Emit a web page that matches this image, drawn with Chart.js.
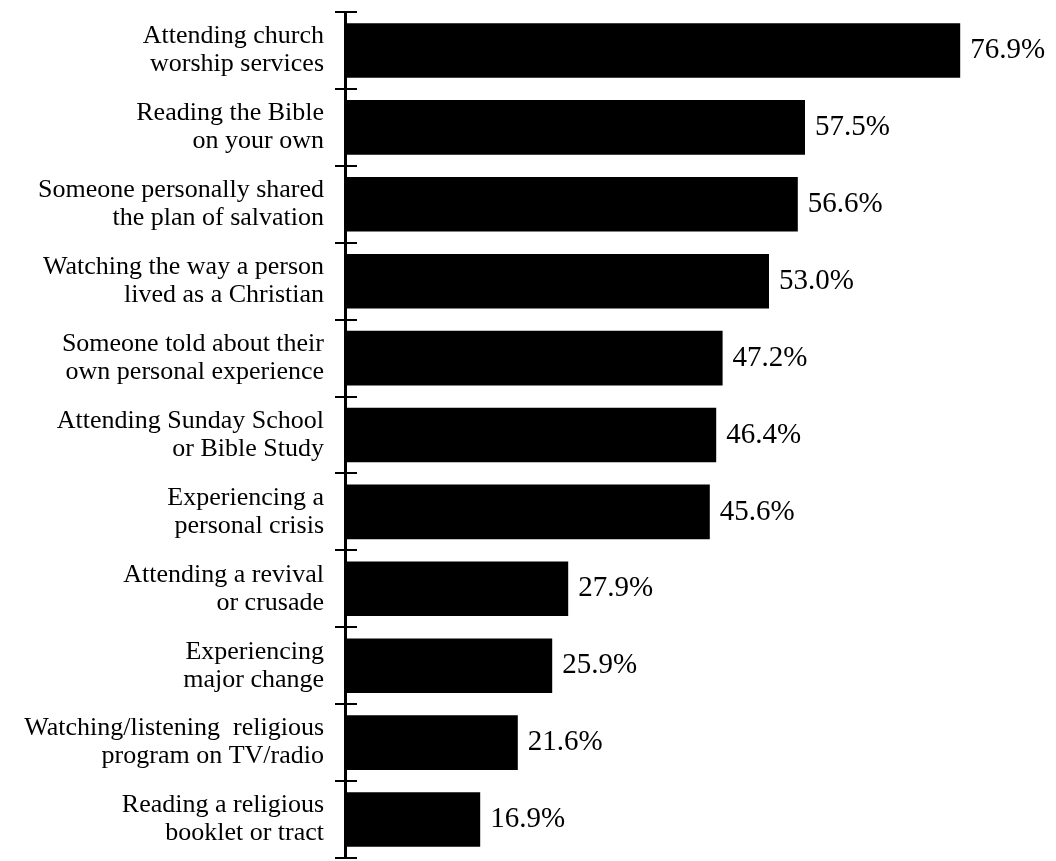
<!DOCTYPE html>
<html>
<head>
<meta charset="utf-8">
<script src="https://cdn.jsdelivr.net/npm/chart.js@4/dist/chart.umd.min.js"></script>
<style>
  html, body { margin: 0; padding: 0; background: #fff; }
  canvas { display: block; }
</style>
</head>
<body>
<canvas id="influencias" width="1056" height="861"></canvas>
<script>
// etiquetas de cada categoria (dos lineas cada una)
const categorias = [
  ["Attending church", "worship services"],
  ["Reading the Bible", "on your own"],
  ["Someone personally shared", "the plan of salvation"],
  ["Watching the way a person", "lived as a Christian"],
  ["Someone told about their", "own personal experience"],
  ["Attending Sunday School", "or Bible Study"],
  ["Experiencing a", "personal crisis"],
  ["Attending a revival", "or crusade"],
  ["Experiencing", "major change"],
  ["Watching/listening  religious", "program on TV/radio"],
  ["Reading a religious", "booklet or tract"]
];

// porcentajes
const porcentajes = [76.9, 57.5, 56.6, 53.0, 47.2, 46.4, 45.6, 27.9, 25.9, 21.6, 16.9];

const fuente = "'Liberation Serif', 'Times New Roman', serif";

// marcas cortas a la derecha del eje, entre categorias
const marcasEje = {
  id: "marcasEje",
  afterDraw(chart) {
    const ctx = chart.ctx;
    const y = chart.scales.y;
    const x0 = chart.chartArea.left;
    ctx.save();
    ctx.strokeStyle = "#000";
    ctx.lineWidth = 2;
    for (let i = 0; i <= categorias.length; i++) {
      const py = Math.round(y.getPixelForValue(i - 0.5));
      ctx.beginPath();
      ctx.moveTo(x0, py);
      ctx.lineTo(x0 + 12, py);
      ctx.stroke();
    }
    ctx.restore();
  }
};

// valor al final de cada barra
const etiquetasValor = {
  id: "etiquetasValor",
  afterDatasetsDraw(chart) {
    const ctx = chart.ctx;
    const meta = chart.getDatasetMeta(0);
    ctx.save();
    ctx.font = "29px " + fuente;
    ctx.fillStyle = "#000";
    ctx.textAlign = "left";
    ctx.textBaseline = "middle";
    meta.data.forEach((barra, i) => {
      ctx.fillText(porcentajes[i].toFixed(1) + "%", barra.x + 10, barra.y);
    });
    ctx.restore();
  }
};

new Chart(document.getElementById("influencias").getContext("2d"), {
  type: "bar",
  data: {
    labels: categorias,
    datasets: [
      {
        data: porcentajes,
        backgroundColor: "#000",
        borderWidth: 0,
        barPercentage: 0.71,
        categoryPercentage: 1
      }
    ]
  },
  options: {
    indexAxis: "y",
    responsive: false,
    animation: false,
    layout: { padding: { top: 12, bottom: 3, right: 7, left: 0 } },
    plugins: {
      legend: { display: false },
      tooltip: { enabled: false }
    },
    scales: {
      x: {
        display: false,
        min: 0,
        max: 88
      },
      y: {
        afterFit: (scale) => {
          scale.width = 345;
          scale.paddingTop = 0;
          scale.paddingBottom = 0;
        },
        grid: {
          offset: true,
          drawOnChartArea: false,
          drawTicks: true,
          tickLength: 10,
          color: "#000",
          lineWidth: 2
        },
        border: { display: true, color: "#000", width: 3 },
        ticks: {
          color: "#000",
          padding: 11,
          font: { family: fuente, size: 26, lineHeight: 1.077 }
        }
      }
    }
  },
  plugins: [marcasEje, etiquetasValor]
});
</script>
</body>
</html>
